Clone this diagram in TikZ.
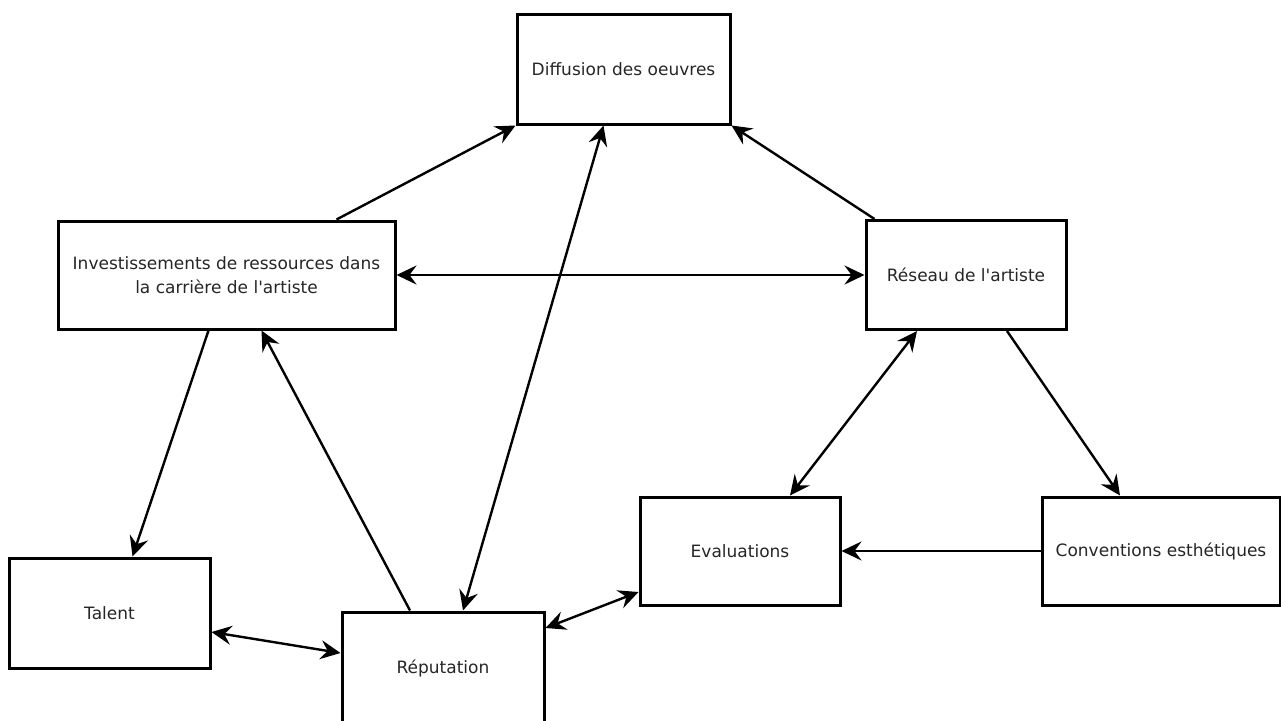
\documentclass[tikz,border=0pt]{standalone}
\usepackage{fontspec}
\setmainfont{DejaVu Sans}
\usetikzlibrary{arrows.meta}
\begin{document}
\begin{tikzpicture}[x=1pt,y=-1pt,
  box/.style={draw=black,line width=3pt,fill=white,rectangle,inner sep=0pt,align=center,font=\fontsize{17}{24}\selectfont,text=black!85},
  link/.style={line width=2.4pt,-{Stealth[length=20pt,width=19pt,inset=7pt]}},
  dlink/.style={line width=2.4pt,{Stealth[length=20pt,width=19pt,inset=7pt]}-{Stealth[length=20pt,width=19pt,inset=7pt]}}]
\useasboundingbox (0,0) rectangle (1281,720);
\node[box,minimum width=213pt,minimum height=110pt] (diff) at (623.5,69) {Diffusion des oeuvres};
\node[box,minimum width=337pt,minimum height=108pt] (inv) at (226.5,275) {Investissements de ressources dans\\la carrière de l\textquotesingle artiste};
\node[box,minimum width=200pt,minimum height=109pt] (res) at (966,275) {Réseau de l\textquotesingle artiste};
\node[box,minimum width=201pt,minimum height=110pt] (tal) at (109.5,613) {Talent};
\node[box,minimum width=202pt,minimum height=112pt] (rep) at (443,668) {Réputation};
\node[box,minimum width=200pt,minimum height=108pt] (eval) at (740,551) {Evaluations};
\node[box,minimum width=238pt,minimum height=108pt] (conv) at (1161,551) {Conventions esthétiques};
\draw[link] ([xshift=110pt]inv.north) -- (diff.south west);
\draw[dlink] ([xshift=20pt]rep.north) -- ([xshift=-20pt]diff.south);
\draw[link] ([xshift=10pt]res.north west) -- (diff.south east);
\draw[dlink] (inv.east) -- (res.west);
\draw[link] ([xshift=-18pt]inv.south) -- ([xshift=23pt]tal.north);
\draw[link] ([xshift=-33pt]rep.north) -- ([xshift=35pt]inv.south);
\draw[dlink] ([yshift=-19pt]tal.east) -- ([yshift=15pt]rep.west);
\draw[dlink] ([yshift=40pt]rep.east) -- ([yshift=-41pt]eval.west);
\draw[dlink] ([xshift=-49pt]res.south) -- ([xshift=50pt]eval.north);
\draw[link] ([xshift=41pt]res.south) -- ([xshift=-41pt]conv.north);
\draw[link] (conv.west) -- (eval.east);
\end{tikzpicture}
\end{document}
